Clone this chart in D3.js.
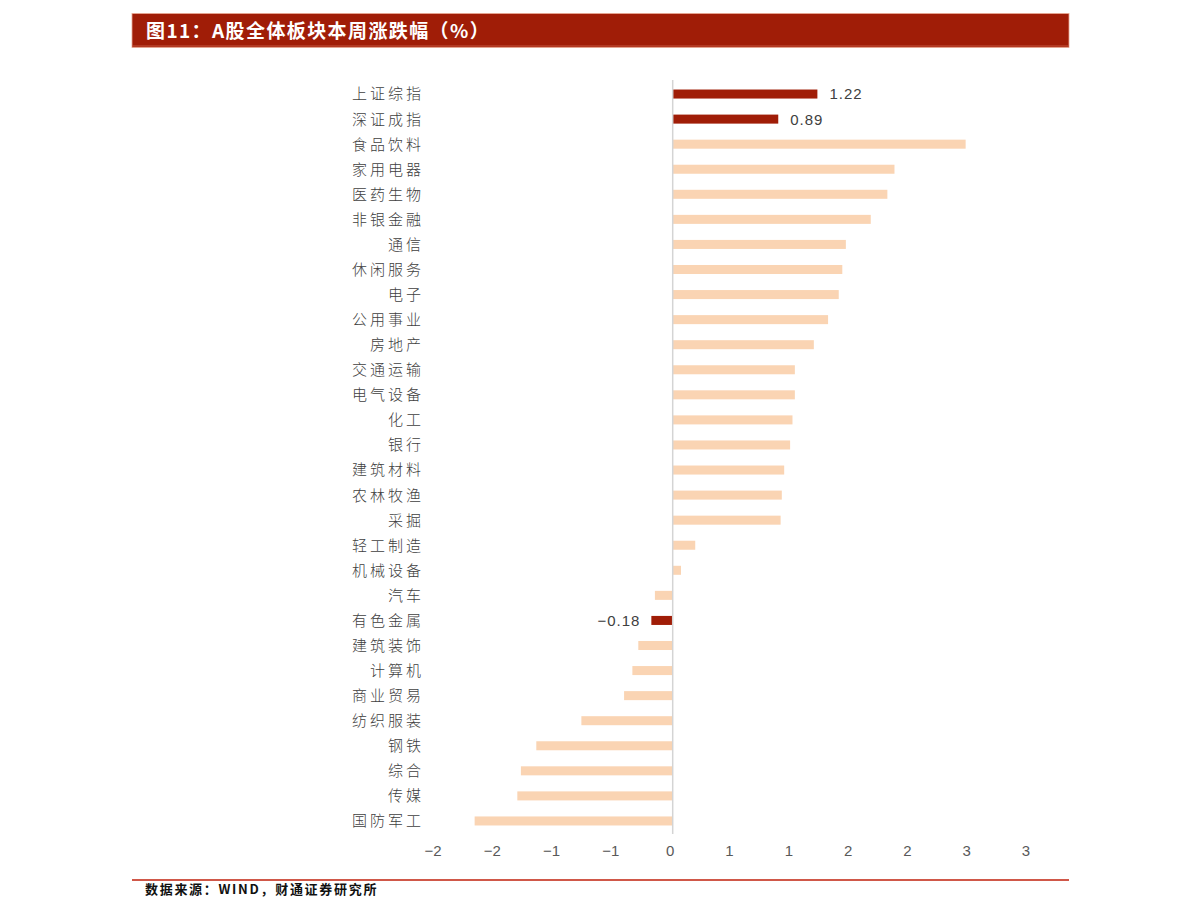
<!DOCTYPE html>
<html>
<head>
<meta charset="utf-8">
<script src="https://cdn.jsdelivr.net/npm/d3@7"></script>
<style>
  body { margin: 0; background: #fff; }
  svg { display: block; }
</style>
</head>
<body>
<div id="chart"></div>
<script>
//// data
const categories = ['上证综指', '深证成指', '食品饮料', '家用电器', '医药生物', '非银金融', '通信', '休闲服务',
	'电子', '公用事业', '房地产', '交通运输', '电气设备', '化工', '银行', '建筑材料', '农林牧渔', '采掘',
	'轻工制造', '机械设备', '汽车', '有色金属', '建筑装饰', '计算机', '商业贸易', '纺织服装', '钢铁',
	'综合', '传媒', '国防军工'];
const values = [1.22, 0.89, 2.47, 1.87, 1.81, 1.67, 1.46, 1.43, 1.40, 1.31, 1.19, 1.03, 1.03, 1.01,
	0.99, 0.94, 0.92, 0.91, 0.19, 0.07, -0.15, -0.18, -0.29, -0.34, -0.41, -0.77, -1.15, -1.28, -1.31, -1.67];
const highlighted = ['上证综指', '深证成指', '有色金属'];
const tickValues = [-2, -1.5, -1, -0.5, 0, 0.5, 1, 1.5, 2, 2.5, 3];

const title = '图11：A股全体板块本周涨跌幅（%）';
const source = '数据来源：WIND，财通证券研究所';

const W = 1191, H = 917;
const DARK = '#A01D07', LIGHT = '#FAD4B3';

const svg = d3.select('#chart').append('svg')
	.attr('width', W)
	.attr('height', H);

//// title bar
svg.append('rect')
	.attr('x', 132).attr('y', 13.5)
	.attr('width', 937).attr('height', 34)
	.attr('fill', DARK)
	.attr('stroke', '#E9A994').attr('stroke-width', 0.8);
svg.append('line')
	.attr('x1', 132).attr('x2', 1069)
	.attr('y1', 46).attr('y2', 46)
	.attr('stroke', '#C4563F').attr('stroke-width', 1);
svg.append('text')
	.attr('x', 146).attr('y', 38)
	.attr('fill', '#fff')
	.style('font-family', '"Noto Sans CJK SC", sans-serif')
	.style('font-weight', 'bold')
	.style('font-size', '19px')
	.style('letter-spacing', '1.4px')
	.text(title);

//// scales
const x = d3.scaleLinear()
	.domain([-2, 3])
	.range([435.5, 1028.5]);

const y = d3.scaleBand()
	.domain(categories)
	.range([81.5, 833.5])
	.paddingInner(0.64)
	.paddingOuter(0.32);

const rows = categories.map((c, i) => ({ name: c, value: values[i] }));

//// bars
svg.append('g').selectAll('rect')
	.data(rows)
	.enter()
	.append('rect')
	.attr('x', d => x(Math.min(0, d.value)))
	.attr('y', d => y(d.name))
	.attr('width', d => Math.abs(x(d.value) - x(0)))
	.attr('height', y.bandwidth())
	.attr('fill', d => highlighted.includes(d.name) ? DARK : LIGHT);

//// zero line
svg.append('line')
	.attr('x1', x(0)).attr('x2', x(0))
	.attr('y1', 80).attr('y2', 834)
	.attr('stroke', '#D4D4D4')
	.attr('stroke-width', 1.5);

//// category labels
svg.append('g').selectAll('text')
	.data(rows)
	.enter()
	.append('text')
	.attr('x', 424)
	.attr('y', d => y(d.name) + y.bandwidth() / 2)
	.attr('dy', '0.36em')
	.attr('text-anchor', 'end')
	.attr('fill', '#404040')
	.style('font-family', '"Noto Sans CJK SC", sans-serif')
	.style('font-weight', 300)
	.style('font-size', '15px')
	.style('letter-spacing', '3px')
	.text(d => d.name);

//// value labels for highlighted bars
const fmt = d3.format('.2f');
svg.append('g').selectAll('text')
	.data(rows.filter(d => highlighted.includes(d.name)))
	.enter()
	.append('text')
	.attr('x', d => d.value >= 0 ? x(d.value) + 12 : x(d.value) - 11)
	.attr('y', d => y(d.name) + y.bandwidth() / 2)
	.attr('dy', '0.36em')
	.attr('text-anchor', d => d.value >= 0 ? 'start' : 'end')
	.attr('fill', '#404040')
	.style('font-family', '"Liberation Sans", sans-serif')
	.style('font-size', '15px')
	.style('letter-spacing', '1px')
	.text(d => fmt(d.value).replace('-', '−'));

//// x axis (labels rounded to whole numbers, like the original)
const roundAway = v => Math.sign(v) * Math.round(Math.abs(v));
const xAxis = d3.axisBottom(x)
	.tickValues(tickValues)
	.tickSize(0)
	.tickPadding(0)
	.tickFormat(v => { const r = roundAway(v); return r < 0 ? '−' + Math.abs(r) : String(r); });

const gx = svg.append('g')
	.attr('transform', 'translate(-3, 845)')
	.call(xAxis);
gx.select('.domain').remove();
gx.selectAll('text')
	.attr('fill', '#595959')
	.style('font-family', '"Liberation Sans Narrow", "Liberation Sans", sans-serif')
	.style('font-size', '15px');

//// footer
svg.append('line')
	.attr('x1', 132).attr('x2', 1069)
	.attr('y1', 880).attr('y2', 880)
	.attr('stroke', '#C0200C')
	.attr('stroke-width', 1.6);
svg.append('text')
	.attr('x', 145).attr('y', 894)
	.attr('fill', '#111')
	.style('font-family', '"Noto Sans CJK SC", sans-serif')
	.style('font-weight', 'bold')
	.style('font-size', '13px')
	.style('letter-spacing', '1.7px')
	.text(source);
</script>
</body>
</html>
